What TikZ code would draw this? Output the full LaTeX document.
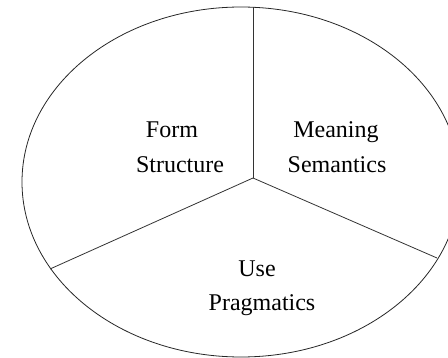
\documentclass[tikz,border=0pt]{standalone}
\usepackage{fontspec}
\setmainfont{Liberation Serif}
\usepackage{tikz}
\usetikzlibrary{positioning}

\begin{document}
\begin{tikzpicture}[
    x=1pt, y=-1pt,
    font=\fontsize{24}{28}\selectfont,
    rim/.style={draw=black!85, line width=0.8pt},
    spoke/.style={draw=black!80, line width=0.8pt},
    label/.style={anchor=base, inner sep=0pt}
]
\useasboundingbox (0,0) rectangle (448,358);
\clip (0,0) rectangle (448,358);

\draw[rim] (241,182) ellipse [x radius=219, y radius=175];

\coordinate (hub) at (253,178);
\coordinate (top) at (253,7);
\coordinate (left) at (50,269);
\coordinate (right) at (437,258);

\draw[spoke] (hub) -- (top);
\draw[spoke] (hub) -- (left);
\draw[spoke] (hub) -- (right);

\node[label] (form) at (172,138) {Form};
\node[label] (structure) at (180,173) {Structure};
\node[label] (meaning) at (336,138) {Meaning};
\node[label] (semantics) at (337,173) {Semantics};
\node[label] (use) at (257,277) {Use};
\node[label] (pragmatics) at (262,311) {Pragmatics};
\end{tikzpicture}
\end{document}
